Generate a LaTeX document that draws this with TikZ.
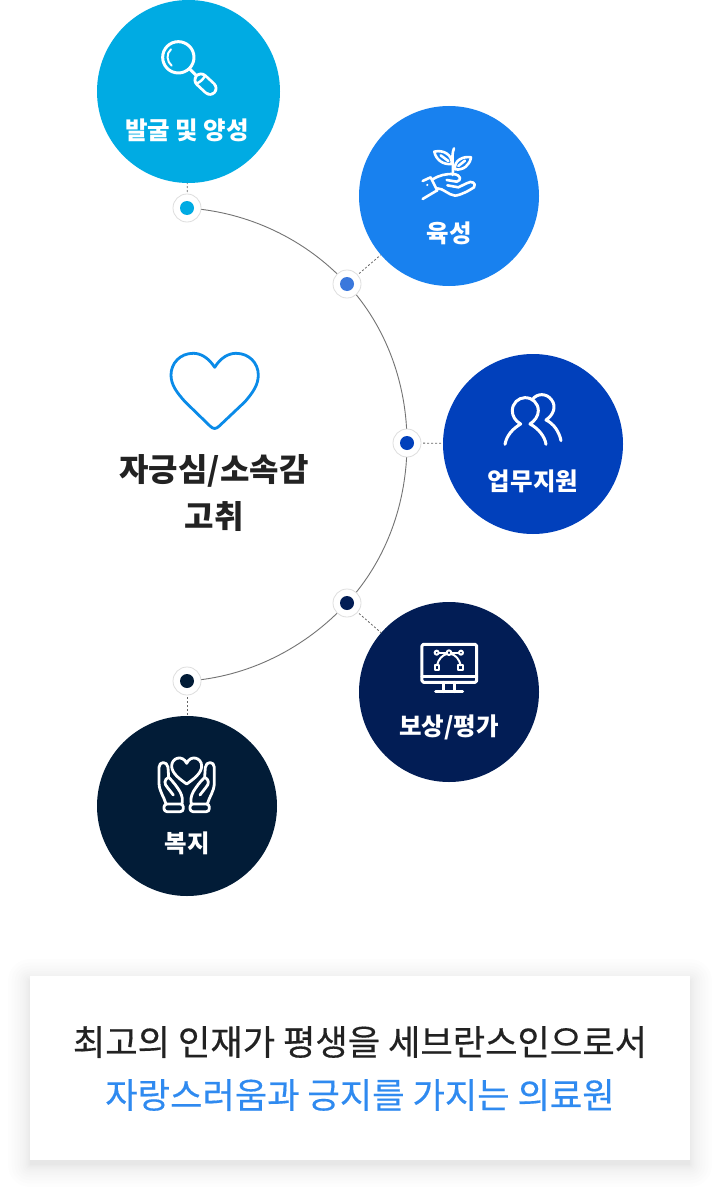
\documentclass[tikz,border=0pt]{standalone}
\usepackage{fontspec}
\setmainfont{Noto Sans CJK KR}
\newfontfamily\krsemi{Noto Sans CJK KR}[FakeBold=0.35]
\usetikzlibrary{backgrounds}
\definecolor{cA}{HTML}{00ABE3}
\definecolor{cB}{HTML}{1881EF}
\definecolor{cBdot}{HTML}{3A78DC}
\definecolor{cC}{HTML}{0140BB}
\definecolor{cD}{HTML}{021D55}
\definecolor{cE}{HTML}{021C37}
\definecolor{heartblue}{HTML}{0A8BE8}
\definecolor{inktext}{HTML}{222222}
\definecolor{accent}{HTML}{2F8AF0}
\tikzset{
  bigdisc/.style={circle,minimum size=180pt,inner sep=0pt,outer sep=0pt,fill=#1},
  ringdot/.style={circle,minimum size=28pt,inner sep=0pt,outer sep=0pt,fill=white,draw=black!13,line width=.8pt},
  coredot/.style={circle,minimum size=14pt,inner sep=0pt,fill=#1},
  discaption/.style={text=white,font=\fontsize{24.5}{30}\selectfont\bfseries,inner sep=0pt},
  headline/.style={text=inktext,font=\fontsize{32}{38}\selectfont\bfseries,inner sep=0pt},
  closing/.style={font=\krsemi\fontsize{35.2}{42}\selectfont,inner sep=0pt},
  iconline/.style={draw=white,line width=3pt,line cap=round,line join=round},
  thinicon/.style={draw=white,line width=2pt,line cap=round,line join=round},
  railline/.style={draw=black!55,line width=.9pt},
  tick/.style={draw=black!60,line width=.8pt,dash pattern=on 2pt off 2pt,shorten <=2pt}
}
% one hand of the caring-hands icon, in the left half
\newcommand{\carehand}{%
  \draw[iconline,line width=2.8pt,rounded corners=3pt] (222,432) rectangle (280,455);
  \draw[iconline,line width=2.8pt] (228,432) .. controls (222,410) and (208,395) .. (207,370) -- (207,322) .. controls (207,303) and (232,303) .. (234,322) -- (236,352) .. controls (250,365) and (262,382) .. (270,395) .. controls (278,410) and (278,420) .. (276,432);
  \draw[iconline,line width=2.8pt] (236,352) .. controls (222,358) and (222,372) .. (232,382) -- (250,405);
}
\begin{document}
\begin{tikzpicture}[x=1pt,y=-1pt]
\useasboundingbox (0,0) rectangle (720,1193);

% large discs
\node[bigdisc=cA,minimum size=183pt] (c1) at (188.5,91.5) {};
\node[bigdisc=cB] (c2) at (449,196) {};
\node[bigdisc=cC] (c3) at (533,444) {};
\node[bigdisc=cD] (c4) at (449,692) {};
\node[bigdisc=cE] (c5) at (187,806) {};

% stations on the rail
\node[ringdot] (d1) at (187,208) {};
\node[ringdot] (d2) at (347,284) {};
\node[ringdot] (d3) at (407,443) {};
\node[ringdot] (d4) at (347,603) {};
\node[ringdot] (d5) at (187,681) {};
\node[coredot=cA] at (d1) {};
\node[coredot=cBdot] at (d2) {};
\node[coredot=cC] at (d3) {};
\node[coredot=cD] at (d4) {};
\node[coredot=cE] at (d5) {};

% rail behind the stations
\begin{scope}[on background layer]
  \fill[white] (0,0) rectangle (720,1193);
  \draw[railline] (d1.center) to[out=-3.6,in=132.6,looseness=.883] (d2.center)
                  to[out=-47.4,in=90,looseness=.884] (d3.center)
                  to[out=-90,in=47.4,looseness=.884] (d4.center)
                  to[out=-132.6,in=3.6,looseness=.883] (d5.center);
\end{scope}

% short ticks from stations to discs
\draw[tick] (d1) -- (c1);
\draw[tick] (d2) -- (c2);
\draw[tick] (d3) -- (c3);
\draw[tick] (d4) -- (c4);
\draw[tick] (d5) -- (c5);

% disc captions
\node[discaption] (t1) at (187,130) {발굴 및 양성};
\node[discaption] (t2) at (449,233) {육성};
\node[discaption] (t3) at (533,481) {업무지원};
\node[discaption] (t4) at (449,727) {보상/평가};
\node[discaption] (t5) at (187,843) {복지};

% magnifier
\begin{scope}[shift={(90,0)},x=.3333pt,y=-.3333pt]
  \draw[iconline] (265,172) circle[radius=47];
  \draw[thinicon] (243,148) .. controls (228,160) and (230,185) .. (245,197);
  \draw[iconline] (300,208) -- (318,226);
  \draw[white,line width=15pt,line cap=round] (333,240) -- (360,265);
  \draw[cA,line width=9.4pt,line cap=round] (333,240) -- (360,265);
  \draw[iconline,line width=2.4pt] (320,250) .. controls (328,248) and (338,240) .. (345,228);
\end{scope}

% sprout on an open hand
\begin{scope}[shift={(330,100)},x=.3333pt,y=-.3333pt]
  \draw[iconline,line width=2.6pt] (313,155) .. controls (340,148) and (368,165) .. (365,192) .. controls (340,195) and (318,180) .. cycle;
  \draw[iconline,line width=2.6pt] (332,166) -- (355,183);
  \draw[iconline,line width=2.6pt] (423,172) .. controls (400,168) and (372,180) .. (375,208) .. controls (400,212) and (420,195) .. cycle;
  \draw[iconline,line width=2.6pt] (405,182) -- (385,198);
  \draw[iconline,line width=2.6pt] (372,145) .. controls (362,170) and (372,195) .. (368,225);
  \draw[iconline,line width=2.6pt] (278,297) -- (320,272);
  \draw[iconline,line width=2.6pt] (278,243) -- (302,232) -- (322,272);
  \draw[iconline,line width=2.6pt] (308,238) .. controls (330,225) and (345,222) .. (370,222) .. controls (395,225) and (395,242) .. (380,245) -- (350,240);
  \draw[iconline,line width=2.6pt] (322,265) .. controls (340,265) and (355,285) .. (375,287) .. controls (395,285) and (420,270) .. (432,262) .. controls (440,250) and (425,240) .. (410,250) -- (385,262) -- (352,256);
  \fill[white] (292,255) circle[radius=3.5];
\end{scope}

% two people
\begin{scope}[shift={(390,350)},x=.3333pt,y=-.3333pt]
  \draw[iconline] (345,283) .. controls (350,255) and (370,235) .. (392,222) .. controls (375,212) and (367,198) .. (367,182) .. controls (367,160) and (385,143) .. (405,143) .. controls (428,143) and (445,160) .. (445,182) .. controls (445,198) and (435,212) .. (420,222) .. controls (445,235) and (465,260) .. (468,283);
  \draw[iconline] (428,148) .. controls (440,130) and (470,128) .. (485,150) .. controls (500,170) and (490,195) .. (468,210) .. controls (490,220) and (508,245) .. (513,272);
\end{scope}

% monitor with a curve
\begin{scope}[shift={(330,585)},x=.3333pt,y=-.3333pt]
  \draw[iconline,rounded corners=1.5pt] (276,178) rectangle (440,292);
  \draw[iconline] (276,276) -- (440,276);
  \draw[iconline] (340,292) -- (340,320);
  \draw[iconline] (375,292) -- (375,320);
  \draw[iconline] (317,320) -- (398,320);
  \draw[thinicon] (320,203) circle[radius=6];
  \draw[thinicon] (393,203) circle[radius=6];
  \draw[thinicon] (357,203) circle[radius=7];
  \draw[thinicon] (314,241) rectangle (328,255);
  \draw[thinicon] (385,241) rectangle (399,255);
  \draw[thinicon] (327,203) -- (350,203);
  \draw[thinicon] (364,203) -- (386,203);
  \draw[thinicon] (321,241) .. controls (325,222) and (338,210) .. (350,207);
  \draw[thinicon] (392,241) .. controls (388,222) and (376,210) .. (364,207);
\end{scope}

% heart held by two hands
\begin{scope}[shift={(90,660)},x=.3333pt,y=-.3333pt]
  \draw[iconline,line width=2.8pt] (290,372) .. controls (270,358) and (245,340) .. (245,318) .. controls (245,293) and (278,283) .. (290,310) .. controls (302,283) and (335,293) .. (335,318) .. controls (335,340) and (310,358) .. cycle;
  \carehand
  \begin{scope}[shift={(580,0)},xscale=-1]
    \carehand
  \end{scope}
\end{scope}

% centre heart and title
\draw[heartblue,line width=2.8pt,line join=round] (214.7,367.3) .. controls (208,357) and (200,353.3) .. (193.3,353.3) .. controls (180,353.3) and (171,363.3) .. (171,375) .. controls (171,385) and (177,392.7) .. (185,401.7) -- (210,426) .. controls (213.3,429.3) and (216,429.3) .. (219.3,426) -- (245,401.7) .. controls (252.7,392.7) and (258.3,385) .. (258.3,375) .. controls (258.3,363.3) and (249.3,353.3) .. (236,353.3) .. controls (229.3,353.3) and (221,357) .. cycle;
\node[headline] (h1) at (214,471) {자긍심/소속감};
\node[headline] (h2) at (214,516) {고취};

% closing panel with a soft shadow
\foreach \g in {22,18.5,15.3,12.4,9.8,7.5,5.5,3.8,2.4,1.4,.6,.15}{
  \fill[black,opacity=.006,rounded corners=\g pt] ({30-\g},{976+5-\g}) rectangle ({690+\g},{1160+5+\g});
}
\node[fill=white,minimum width=660pt,minimum height=184pt,inner sep=0pt] (panel) at (360,1068) {};
\node[closing,text=inktext] (p1) at (360,1042) {최고의 인재가 평생을 세브란스인으로서};
\node[closing,text=accent] (p2) at (360,1095) {자랑스러움과 긍지를 가지는 의료원};
\end{tikzpicture}
\end{document}
